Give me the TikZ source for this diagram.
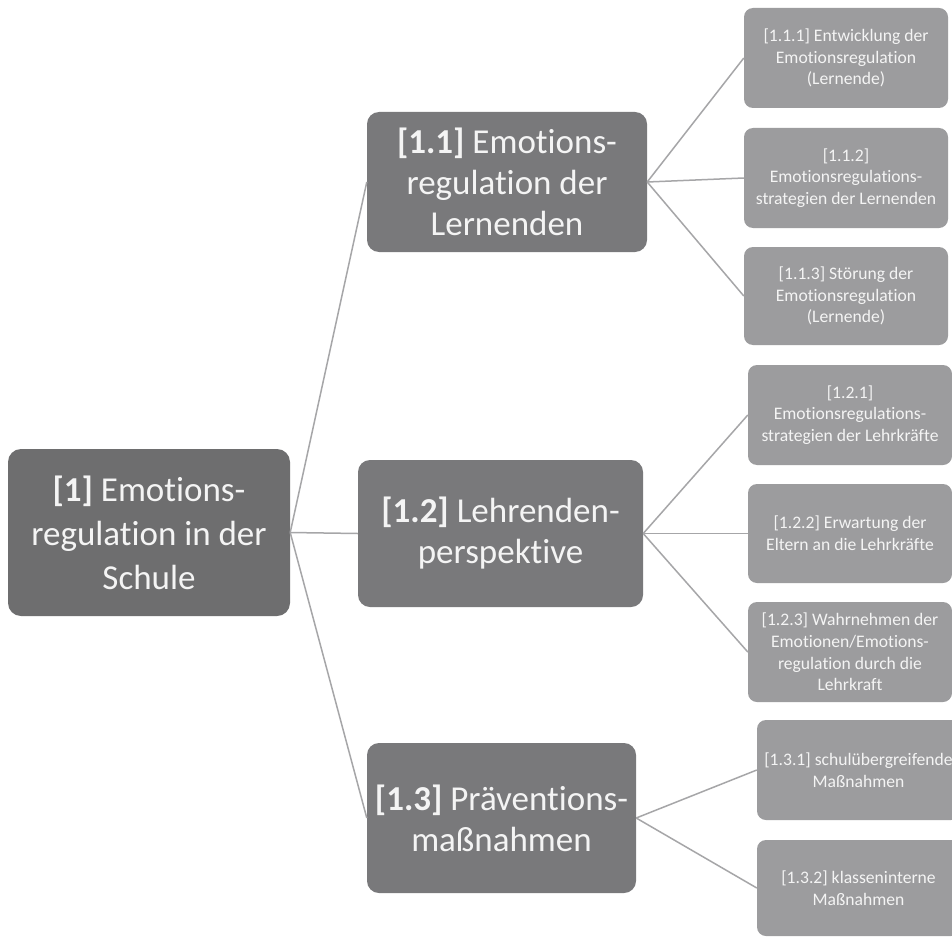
\documentclass[tikz,border=0pt]{standalone}
\usepackage{fontspec}
\setmainfont{Carlito}[Ligatures=NoCommon]
\definecolor{rootgray}{HTML}{6E6E6F}
\definecolor{midgray}{HTML}{79797B}
\definecolor{leafgray}{HTML}{9C9C9E}
\definecolor{linegray}{HTML}{A6A6A8}
\definecolor{txt}{HTML}{F4F4F4}
\tikzset{
  rootbox/.style={fill=rootgray, rounded corners=13pt, text=txt, align=center,
    inner sep=0pt, font=\fontsize{35}{44}\selectfont},
  midbox/.style={fill=midgray, rounded corners=12pt, text=txt, align=center,
    inner sep=0pt, font=\fontsize{35}{41}\selectfont},
  leafbox/.style={fill=leafgray, rounded corners=9pt, text=txt, align=center,
    inner sep=0pt, font=\fontsize{17.6}{21.7}\selectfont},
  conn/.style={draw=linegray, line width=1.5pt}
}
\begin{document}
\begin{tikzpicture}[x=1pt,y=-1pt]
\useasboundingbox (0,0) rectangle (952,936);
\clip (0,0) rectangle (952,936);
\fill[white] (0,0) rectangle (952,936);
% root
\node[rootbox, minimum width=282pt, minimum height=167pt] (root) at (149,532.5)
  {\textbf{[1]} Emotions-\\regulation in der\\Schule};
% level 1
\node[midbox, minimum width=280pt, minimum height=140pt] (n11) at (507,182)
  {\textbf{[1.1]} Emotions-\\regulation der\\Lernenden};
\node[midbox, minimum width=285pt, minimum height=147pt] (n12) at (500.5,533.5)
  {\textbf{[1.2]} Lehrenden-\\perspektive};
\node[midbox, minimum width=269pt, minimum height=150pt] (n13) at (501.5,818)
  {\textbf{[1.3]} Präventions-\\maßnahmen};
% level 2
\node[leafbox, minimum width=204pt, minimum height=100pt] (n111) at (846,58)
  {[1.1.1] Entwicklung der\\Emotionsregulation\\(Lernende)};
\node[leafbox, minimum width=204pt, minimum height=100pt] (n112) at (846,178)
  {[1.1.2]\\Emotionsregulations-\\strategien der Lernenden};
\node[leafbox, minimum width=204pt, minimum height=98pt] (n113) at (846,296)
  {[1.1.3] Störung der\\Emotionsregulation\\(Lernende)};
\node[leafbox, minimum width=204pt, minimum height=100pt] (n121) at (850,415)
  {[1.2.1]\\Emotionsregulations-\\strategien der Lehrkräfte};
\node[leafbox, minimum width=204pt, minimum height=99pt] (n122) at (850,533.5)
  {[1.2.2] Erwartung der\\Eltern an die Lehrkräfte};
\node[leafbox, minimum width=204pt, minimum height=100pt] (n123) at (850,652)
  {[1.2.3] Wahrnehmen der\\Emotionen/Emotions-\\regulation durch die\\Lehrkraft};
\node[leafbox, minimum width=203pt, minimum height=100pt] (n131) at (858.5,770)
  {[1.3.1] schulübergreifende\\Maßnahmen};
\node[leafbox, minimum width=203pt, minimum height=96pt] (n132) at (858.5,888)
  {[1.3.2] klasseninterne\\Maßnahmen};
% connectors
\draw[conn] (root.east) -- (n11.west);
\draw[conn] (root.east) -- (n12.west);
\draw[conn] (root.east) -- (n13.west);
\draw[conn] (n11.east) -- (n111.west);
\draw[conn] (n11.east) -- (n112.west);
\draw[conn] (n11.east) -- (n113.west);
\draw[conn] (n12.east) -- (n121.west);
\draw[conn] (n12.east) -- (n122.west);
\draw[conn] (n12.east) -- (n123.west);
\draw[conn] (n13.east) -- (n131.west);
\draw[conn] (n13.east) -- (n132.west);
\end{tikzpicture}
\end{document}
